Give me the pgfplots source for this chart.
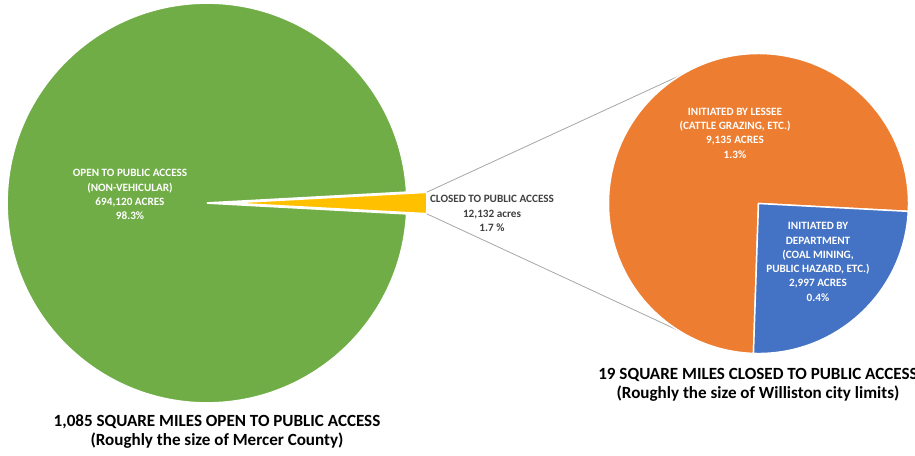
\documentclass[border=0pt]{standalone}
\usepackage{fontspec}
\setmainfont{Carlito}
\usepackage{pgfplots}
\pgfplotsset{compat=1.18}
\usetikzlibrary{calc}

\definecolor{openc}{HTML}{70AD47}
\definecolor{closedc}{HTML}{FFC000}
\definecolor{lesseec}{HTML}{ED7D31}
\definecolor{deptc}{HTML}{4472C4}
\definecolor{connc}{HTML}{A6A6A6}
\definecolor{txtc}{HTML}{404040}

\tikzset{
    lbl/.style={font=\bfseries\fontsize{8.4}{10.7}\selectfont, align=center},
    ttl/.style={font=\bfseries\fontsize{12.8}{14.3}\selectfont, align=center},
}

% acres
\def\openAcres{694120}
\def\closedAcres{12132}
\def\lesseeAcres{9135}
\def\deptAcres{2997}

% slice angles (degrees)
\edef\halfClosed{\fpeval{180*\closedAcres/(\openAcres+\closedAcres)}}
\edef\deptAng{\fpeval{360*\deptAcres/(\lesseeAcres+\deptAcres)}}
\def\deptEnd{-3}
\edef\deptStart{\fpeval{\deptEnd-\deptAng}}
\edef\lesseeEnd{\fpeval{360+\deptStart}}

\begin{document}
\begin{tikzpicture}
\useasboundingbox (0,0) rectangle (686.25pt,341.25pt);
\clip (0,0) rectangle (686.25pt,341.25pt);
\begin{axis}[
    hide axis,
    scale only axis,
    width=686.25pt,
    height=341.25pt,
    xmin=0, xmax=915,
    ymin=0, ymax=455,
    y dir=reverse,
    clip=false,
    at={(0,0)},
    anchor=south west,
]
% main pie
\fill[openc, draw=white, line width=1.3pt] (axis cs:207,203) -- ++(\halfClosed:150pt)
    arc[start angle=\halfClosed, end angle=360-\halfClosed, radius=150pt] -- cycle;
\fill[closedc, draw=white, line width=1.3pt] (axis cs:227,203) -- ++(-\halfClosed:150pt)
    arc[start angle=-\halfClosed, end angle=\halfClosed, radius=150pt] -- cycle;

% connectors
\draw[connc, line width=0.6pt] ($(axis cs:227,203)+(\halfClosed:150pt)$) -- ($(axis cs:758.5,203.5)+(121:112.5pt)$);
\draw[connc, line width=0.6pt] ($(axis cs:227,203)+(-\halfClosed:150pt)$) -- ($(axis cs:758.5,203.5)+(-122:112.5pt)$);

% second pie
\fill[lesseec, draw=white, line width=1.1pt] (axis cs:758.5,203.5) -- ++(\deptEnd:112.5pt)
    arc[start angle=\deptEnd, end angle=\lesseeEnd, radius=112.5pt] -- cycle;
\fill[deptc, draw=white, line width=1.1pt] (axis cs:758.5,203.5) -- ++(\deptStart:112.5pt)
    arc[start angle=\deptStart, end angle=\deptEnd, radius=112.5pt] -- cycle;

% labels
\node[lbl, white] at (axis cs:130,194.5) {OPEN TO PUBLIC ACCESS\\(NON-VEHICULAR)\\694,120 ACRES\\98.3\%};
\node[lbl, txtc] at (axis cs:492,213.5) {CLOSED TO PUBLIC ACCESS\\12,132 acres\\1.7 \%};
\node[lbl, white] at (axis cs:735,133) {INITIATED BY LESSEE\\(CATTLE GRAZING, ETC.)\\9,135 ACRES\\1.3\%};
\node[lbl, white] at (axis cs:818,262) {INITIATED BY\\DEPARTMENT\\(COAL MINING,\\PUBLIC HAZARD, ETC.)\\2,997 ACRES\\0.4\%};

\node[ttl] at (axis cs:217,431.5) {1,085 SQUARE MILES OPEN TO PUBLIC ACCESS\\(Roughly the size of Mercer County)};
\node[ttl] at (axis cs:758,385) {19 SQUARE MILES CLOSED TO PUBLIC ACCESS\\(Roughly the size of Williston city limits)};
\end{axis}
\end{tikzpicture}
\end{document}
